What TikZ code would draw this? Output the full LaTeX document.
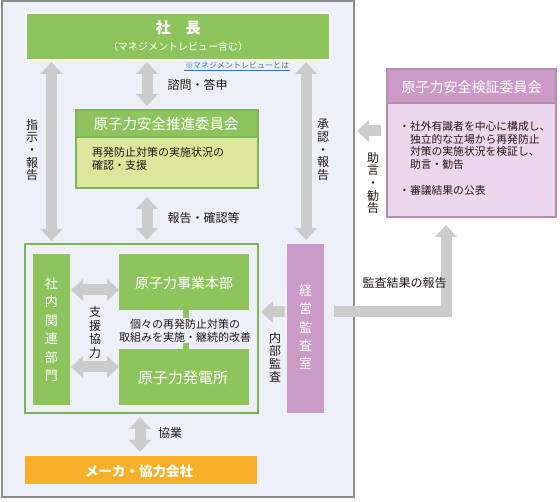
\documentclass[tikz,border=0pt]{standalone}
\usepackage{fontspec}
\setmainfont{Noto Sans CJK JP}
\usetikzlibrary{arrows.meta}
\definecolor{bgc}{HTML}{EDF0F9}
\definecolor{framec}{HTML}{8C8C8C}
\definecolor{gmain}{HTML}{8DC45E}
\definecolor{gdark}{HTML}{7CB554}
\definecolor{glight}{HTML}{DCE69D}
\definecolor{pmain}{HTML}{C99BC6}
\definecolor{pdark}{HTML}{B98AB6}
\definecolor{plight}{HTML}{EBD7EB}
\definecolor{orangec}{HTML}{F7AF29}
\definecolor{arrowc}{HTML}{CCCCCC}
\definecolor{txtc}{HTML}{231815}
\definecolor{linkc}{HTML}{2E75C6}
\tikzset{
  box/.style={rectangle, inner sep=0pt, outer sep=0pt},
  tipA/.tip={Triangle[width=22pt,length=12pt,line width=0pt]},
  arr/.style={draw=arrowc, line width=11pt},
  dbl/.style={arr, tipA-tipA},
  sgl/.style={arr, -tipA},
  lbl/.style={text=txtc, font=\fontsize{12}{12.7}\selectfont, inner sep=0pt, align=center},
  wtxt/.style={text=white, inner sep=0pt, align=center},
}
\begin{document}
\begin{tikzpicture}[x=1pt,y=-1pt]
\useasboundingbox (0,0) rectangle (560,502);
% outer frame
\node[box, draw=framec, fill=bgc, line width=2pt, minimum width=352.5pt, minimum height=495.5pt] (frame) at (177.75,249.25) {};
% president
\node[box, fill=gmain, draw=white, line width=2pt, minimum width=304pt, minimum height=47pt] (shachou) at (178,36.5) {};
\node[wtxt, font=\fontsize{15}{18}\selectfont\bfseries] (shachouT) at (178,28) {社　長};
\node[wtxt, font=\fontsize{10}{12}\selectfont] (shachouS) at (178,47) {（マネジメントレビュー含む）};
\node[inner sep=1pt, text=linkc, font=\fontsize{8}{9}\selectfont] (note) at (237,65.5) {※マネジメントレビューとは};
\draw[linkc, line width=0.6pt] (note.south west) -- (note.south east);
% promotion committee
\node[box, fill=gmain, draw=gdark, line width=1.2pt, minimum width=182pt, minimum height=27pt] (suishinH) at (167,123.5) {};
\node[box, fill=glight, draw=gdark, line width=1.2pt, minimum width=182pt, minimum height=51pt] (suishinB) at (167,162.5) {};
\node[wtxt, font=\fontsize{14.5}{16}\selectfont] (suishinT) at (166,124.5) {原子力安全推進委員会};
\node[text=txtc, inner sep=0pt, anchor=west, align=left, font=\fontsize{11}{13}\selectfont] (suishinX) at (92,159) {再発防止対策の実施状況の\\確認・支援};
% group box
\node[box, draw=gdark, line width=2pt, minimum width=233pt, minimum height=169pt] (grp) at (141.5,328.5) {};
\node[box, fill=gmain, minimum width=37pt, minimum height=151pt] (shanai) at (51.5,329.5) {};
\node[wtxt, font=\fontsize{13}{18.4}\selectfont] (shanaiT) at (51.5,329.5) {社\\内\\関\\連\\部\\門};
\node[box, fill=gmain, minimum width=130pt, minimum height=56pt] (jigyo) at (184,282) {};
\node[wtxt, font=\fontsize{14}{16}\selectfont] (jigyoT) at (184,283) {原子力事業本部};
\node[box, fill=gmain, minimum width=130pt, minimum height=56pt] (hatsu) at (184,377) {};
\node[wtxt, font=\fontsize{15}{16}\selectfont] (hatsuT) at (183,378) {原子力発電所};
\draw[gmain, line width=6pt] ([xshift=2pt]jigyo.south) -- ([xshift=2pt]hatsu.north);
\node[text=txtc, fill=bgc, inner sep=0.5pt, align=center, font=\fontsize{11}{13}\selectfont] (kobetsu) at (185,330.5) {個々の再発防止対策の\\取組みを実施・継続的改善};
% audit office
\node[box, fill=pmain, minimum width=37pt, minimum height=169pt] (keiei) at (305.5,328.5) {};
\node[wtxt, font=\fontsize{13}{18.3}\selectfont] (keieiT) at (305.5,327) {経\\営\\監\\査\\室};
% verification committee
\node[box, fill=pmain, draw=pdark, line width=1.5pt, minimum width=169pt, minimum height=34pt] (kenshoH) at (471.5,86) {};
\node[box, fill=plight, draw=pdark, line width=1.5pt, minimum width=169pt, minimum height=114pt] (kenshoB) at (471.5,160) {};
\node[wtxt, font=\fontsize{14}{16}\selectfont] (kenshoT) at (471.5,87) {原子力安全検証委員会};
\node[text=txtc, inner sep=0pt, anchor=north west, align=left, font=\fontsize{10.8}{12.8}\selectfont] (kenshoX) at (399,121) {・社外有識者を中心に構成し、\\\hspace{10.8pt}独立的な立場から再発防止\\\hspace{10.8pt}対策の実施状況を検証し、\\\hspace{10.8pt}助言・勧告\\[12.8pt]・審議結果の公表};
% makers
\node[box, fill=orangec, minimum width=232pt, minimum height=28pt] (maker) at (141,470) {};
\node[wtxt, font=\fontsize{13.5}{16}\selectfont\bfseries] (makerT) at (139,471) {メーカ・協力会社};
% arrow guide coordinates
\coordinate (xL) at (51.5,0);
\coordinate (xC) at (147,0);
\coordinate (xR) at (306,0);
\coordinate (xB) at (140,0);
\coordinate (xE) at (446,0);
\coordinate (yU) at (0,290);
\coordinate (yD) at (0,367);
\coordinate (yA) at (0,312);
\coordinate (yK) at (0,131);
% arrows
\draw[dbl, shorten <=2pt, shorten >=3pt] (shachou.south -| xL) -- (grp.north -| xL);
\draw[dbl, shorten <=2pt, shorten >=4pt] (shachou.south -| xC) -- (suishinH.north -| xC);
\draw[dbl, shorten <=9pt, shorten >=4pt] (suishinB.south -| xC) -- (grp.north -| xC);
\draw[dbl, shorten <=2pt, shorten >=4pt] (shachou.south -| xR) -- (keiei.north -| xR);
\draw[dbl, shorten <=1pt] (shanai.east |- yU) -- (jigyo.west |- yU);
\draw[dbl, shorten <=1pt] (shanai.east |- yD) -- (hatsu.west |- yD);
\draw[sgl, shorten <=2pt, shorten >=3pt] (keiei.west |- yA) -- (grp.east |- yA);
\draw[sgl, line join=miter, shorten <=10pt, shorten >=8pt] (keiei.east |- yA) -| (kenshoB.south -| xE);
\draw[sgl, shorten <=6pt, shorten >=3pt] (kenshoB.west |- yK) -- (frame.east |- yK);
\draw[dbl, shorten <=4pt, shorten >=4pt] (grp.south -| xB) -- (maker.north -| xB);
% labels
\node[lbl] (l1) at (32,150) {指\\示\\・\\報\\告};
\node[lbl] (l2) at (197.5,85) {諮問・答申};
\node[lbl] (l3) at (203.5,218) {報告・確認等};
\node[lbl] (l4) at (323,150) {承\\認\\・\\報\\告};
\node[lbl, font=\fontsize{12}{13.7}\selectfont] (l5) at (95,332.5) {支\\援\\協\\力};
\node[lbl, font=\fontsize{12}{13}\selectfont] (l6) at (275,357.5) {内\\部\\監\\査};
\node[lbl] (l7) at (404.5,283) {監査結果の報告};
\node[lbl] (l8) at (373,183) {助\\言\\・\\勧\\告};
\node[lbl] (l9) at (170,433) {協業};
\end{tikzpicture}
\end{document}
